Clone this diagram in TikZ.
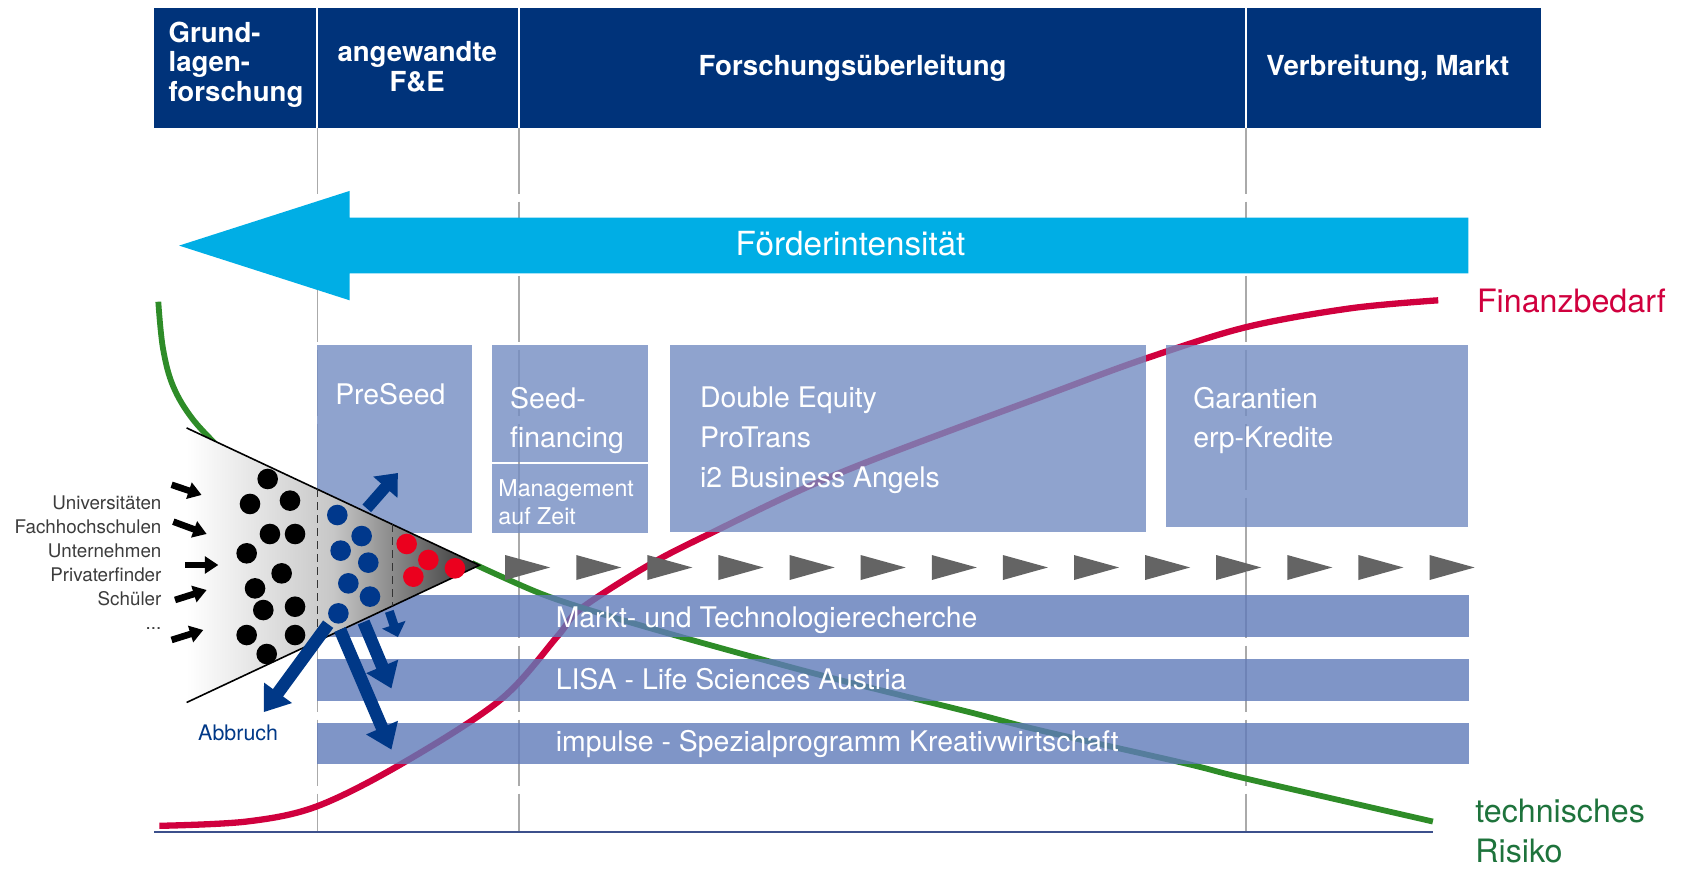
\documentclass[tikz,border=0pt]{standalone}
\usepackage{fontspec}
\setmainfont{TeX Gyre Heros}
\usetikzlibrary{arrows.meta}
\definecolor{hdr}{RGB}{0,51,122}
\definecolor{cyanarrow}{RGB}{0,174,229}
\definecolor{boxc}{RGB}{115,140,194}
\definecolor{barc}{RGB}{95,122,185}
\definecolor{redc}{RGB}{208,0,62}
\definecolor{greenc}{RGB}{46,140,40}
\definecolor{greentext}{RGB}{30,115,60}
\definecolor{darkblue}{RGB}{0,56,135}
\definecolor{dotblue}{RGB}{0,56,140}
\definecolor{dotred}{RGB}{235,0,30}
\definecolor{trigray}{RGB}{100,100,100}
\definecolor{dashgray}{RGB}{170,170,170}
\definecolor{axisblue}{RGB}{60,80,140}
\definecolor{srcgray}{RGB}{60,60,60}
\newcommand\myfs[2]{\fontsize{#1pt}{#2pt}\selectfont}
\begin{document}
\begin{tikzpicture}[x=1.0725pt,y=-1.0725pt,
  hdrtxt/.style={text=white,font=\bfseries\myfs{27.6}{31}\selectfont,inner sep=0},
  boxtxt/.style={text=white,font=\myfs{28.4}{34},inner sep=0,anchor=base west},
  smalltxt/.style={text=white,font=\myfs{23.2}{28},inner sep=0,anchor=base west},
  bartxt/.style={text=white,font=\myfs{28.4}{34},inner sep=0,anchor=base west},
  srctxt/.style={text=srcgray,font=\myfs{18.8}{22},inner sep=0,anchor=base east},
  curvelabel/.style={font=\myfs{32.2}{38},inner sep=0,anchor=base west},
  colline/.style={dashgray,line width=1.6pt,dash pattern=on 66pt off 8pt},
  boxfill/.style={fill=boxc,fill opacity=0.8},
  barfill/.style={fill=barc,fill opacity=0.8},
  inarrow/.style={black,line width=6.6pt,-{Triangle[width=16.6pt,length=13.4pt]}},
  outarrow/.style={darkblue,line width=12.6pt,-{Triangle[width=33pt,length=24pt]}},
  fdash/.style={black!80,line width=1.6pt,dash pattern=on 8pt off 5pt}
]
\useasboundingbox (0,0) rectangle (1568.3,810.3);

% header
\fill[hdr] (144,7) rectangle (1437,119);
\foreach \x in {296,484,1162} \draw[white,line width=2pt] (\x,7) -- (\x,119);
\node[hdrtxt,anchor=base west] (h1a) at (157,39.5) {Grund-};
\node[hdrtxt,anchor=base west] (h1b) at (157,67) {lagen-};
\node[hdrtxt,anchor=base west] (h1c) at (157,94.5) {forschung};
\node[hdrtxt,anchor=base] (h2a) at (389,56.9) {angewandte};
\node[hdrtxt,anchor=base] (h2b) at (389,85.5) {F\&E};
\node[hdrtxt,anchor=base] (h3) at (795,70.5) {Forschungsüberleitung};
\node[hdrtxt,anchor=base] (h4) at (1294,70.5) {Verbreitung, Markt};

% column lines
\foreach \x in {296,484,1162} \draw[colline] (\x,119) -- (\x,775);

% axis
\draw[axisblue,line width=2pt] (144,775.5) -- (1336,775.5);

% Foerderintensitaet arrow
\fill[cyanarrow] (1369,203) -- (326,203) -- (326,178) -- (167,229) -- (326,280) -- (326,255) -- (1369,255) -- cycle;
\node[text=white,font=\myfs{33.2}{38},inner sep=0,anchor=base] (foerder) at (793,238.5) {Förderintensität};

% curves
\draw[redc,line width=6.3pt] plot[smooth,tension=0.55] coordinates {(148.6,770) (230,766) (295,752) (373,713) (466,653) (520,593) (541,568) (603,528) (659,499) (783,441) (979,367) (1069,334) (1162,305) (1259,287.5) (1341,280)};
\draw[greenc,line width=5.8pt] plot[smooth,tension=0.6] coordinates {(147.6,281.3) (152,325) (161.6,360.5) (180.3,391.6) (209.8,422.7)};
\draw[greenc,line width=5.8pt] plot[smooth,tension=0.55] coordinates {(440,525) (503,553) (560,572) (646,597) (771,631) (900,663) (970,681) (1106,712) (1162,726) (1336,766)};

% boxes
\fill[boxfill] (295.3,321.7) rectangle (440.4,497.3);
\fill[boxfill] (459.1,321.7) rectangle (604.5,430.5);
\fill[boxfill] (459.1,432.5) rectangle (604.5,497.3);
\fill[boxfill] (624.7,321.7) rectangle (1068.2,495.7);
\fill[boxfill] (1087.2,321.7) rectangle (1369,491);
\fill[barfill] (295.3,554.8) rectangle (1370,594.2);
\fill[barfill] (295.3,614.5) rectangle (1370,653.6);
\fill[barfill] (295.3,673.8) rectangle (1370,712.4);

% box texts
\node[boxtxt] (preseed) at (312.4,377) {PreSeed};
\node[boxtxt] (seed1) at (475.5,380.5) {Seed-};
\node[boxtxt] (seed2) at (475.5,417.5) {financing};
\node[smalltxt] (mgmt1) at (464.6,462.8) {Management};
\node[smalltxt] (mgmt2) at (464.6,489.5) {auf Zeit};
\node[boxtxt] (de1) at (652.5,380) {Double Equity};
\node[boxtxt] (de2) at (652.5,417.5) {ProTrans};
\node[boxtxt] (de3) at (652.5,455) {i2 Business Angels};
\node[boxtxt] (gar1) at (1112.5,380.5) {Garantien};
\node[boxtxt] (gar2) at (1112.5,417) {erp-Kredite};
\node[bartxt] (bar1) at (518,585.5) {Markt- und Technologierecherche};
\node[bartxt] (bar2) at (518,643) {LISA - Life Sciences Austria};
\node[bartxt] (bar3) at (518,700.5) {impulse - Spezialprogramm Kreativwirtschaft};

% triangles row
\foreach \i in {0,...,13} {
  \pgfmathsetmacro\xx{471+66.3*\i}
  \fill[trigray] (\xx,517.5) -- ++(42,11.6) -- ++(-42,11.7) -- cycle;
}

% funnel
\shade[left color=white,right color=black!80,middle color=black!22] (174,399) -- (447,527) -- (174,655) -- cycle;
\draw[black,line width=1.6pt] (174,399) -- (447,527) -- (174,655);
\draw[fdash] (296,456.2) -- (296,597.8);
\draw[fdash] (366,489) -- (366,565);

% dots
\foreach \p in {(249.6,446.6),(233.1,469.9),(270.4,466.8),(251.7,497.9),(275.1,497.9),(230,515.9),(262.6,534.6),(237.8,548.6),(245.5,568.8),(275.1,565.7),(230,592.1),(275.1,592.1),(248.7,609.8)}
  \fill[black] \p circle[radius=10.3pt];
\foreach \p in {(314.5,480.2),(337.2,499.8),(317.6,513.4),(343.4,524.6),(324.8,543.9),(345,556.3),(315.5,571.9)}
  \fill[dotblue] \p circle[radius=10.3pt];
\foreach \p in {(379.2,507.2),(399.4,522.1),(385.4,537.7),(424.2,529.9)}
  \fill[dotred] \p circle[radius=10.3pt];

% input arrows
\coordinate (i1s) at (160,452);   \coordinate (i1e) at (188,461.5);
\coordinate (i2s) at (161.6,486.4); \coordinate (i2e) at (192.7,497.9);
\coordinate (i3s) at (172.5,526.8); \coordinate (i3e) at (203.6,526.8);
\coordinate (i4s) at (163.2,559.4); \coordinate (i4e) at (192.7,550.1);
\coordinate (i5s) at (160,596.7); \coordinate (i5e) at (189.6,587.4);
\foreach \n in {1,...,5} \draw[inarrow] (i\n s) -- (i\n e);

% source labels
\node[srctxt] (s1) at (150.7,475) {Universitäten};
\node[srctxt] (s2) at (150.7,497.3) {Fachhochschulen};
\node[srctxt] (s3) at (150.7,519.6) {Unternehmen};
\node[srctxt] (s4) at (150.7,541.9) {Privaterfinder};
\node[srctxt] (s5) at (150.7,564.2) {Schüler};
\node[srctxt] (s6) at (150.7,586.5) {...};

% output arrows
\coordinate (o1s) at (342,474); \coordinate (o1e) at (371,441);
\coordinate (o2s) at (363,570); \coordinate (o2e) at (371,594);
\coordinate (o3s) at (339,580); \coordinate (o3e) at (365,642);
\coordinate (o4s) at (317,587); \coordinate (o4e) at (365,699);
\coordinate (o5s) at (306,582); \coordinate (o5e) at (246,664);
\draw[darkblue,line width=11.5pt,-{Triangle[width=31pt,length=19pt]}] (o1s) -- (o1e);
\draw[darkblue,line width=9pt,-{Triangle[width=24pt,length=13pt]}] (o2s) -- (o2e);
\draw[outarrow] (o3s) -- (o3e);
\draw[outarrow] (o4s) -- (o4e);
\draw[outarrow] (o5s) -- (o5e);
\node[text=darkblue,font=\myfs{21.4}{25},inner sep=0,anchor=base] (abbruch) at (222,690) {Abbruch};

% curve labels
\node[curvelabel,text=redc] (finanz) at (1377,291.5) {Finanzbedarf};
\node[curvelabel,text=greentext] (risk1) at (1375.5,767) {technisches};
\node[curvelabel,text=greentext] (risk2) at (1375.5,804) {Risiko};
\end{tikzpicture}
\end{document}
